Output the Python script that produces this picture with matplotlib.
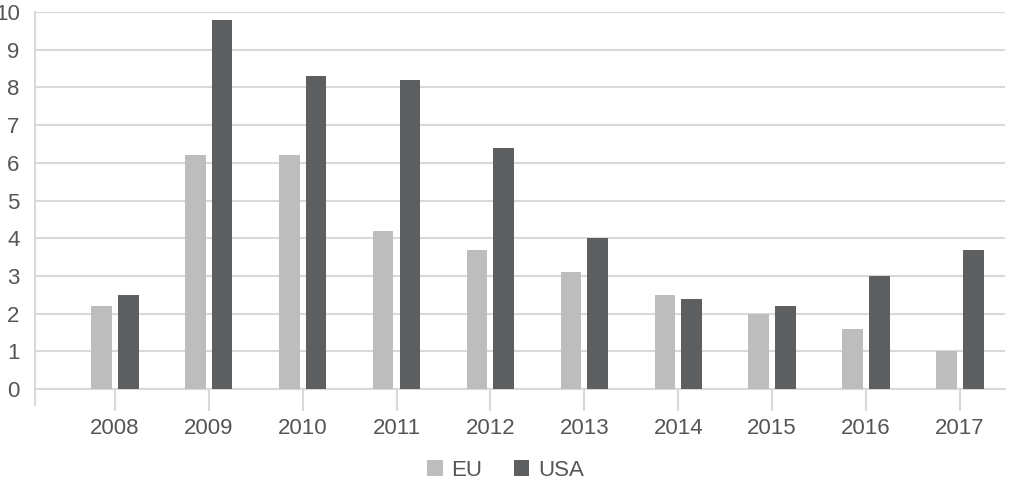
import numpy as np
import matplotlib.pyplot as plt

years = ['2008', '2009', '2010', '2011', '2012', '2013', '2014', '2015', '2016', '2017']
eu = [2.2, 6.2, 6.2, 4.2, 3.7, 3.1, 2.5, 2.0, 1.6, 1.0]
usa = [2.5, 9.8, 8.3, 8.2, 6.4, 4.0, 2.4, 2.2, 3.0, 3.7]

plt.rcParams['font.family'] = ['Liberation Sans', 'DejaVu Sans']

fig = plt.figure(figsize=(10.11, 4.86), dpi=100)
ax = fig.add_axes([35 / 1011, 1 - 389 / 486, 970 / 1011, 377 / 486])

x = np.arange(len(years))
w = 0.22
gap = 0.065
ax.bar(x - (w + gap) / 2, eu, w, color='#bdbdbd', label='EU', zorder=3)
ax.bar(x + (w + gap) / 2, usa, w, color='#5e5f61', label='USA', zorder=3)

ax.set_xlim(-0.85, 9.48)
ax.set_ylim(0, 10)
ax.set_yticks(range(0, 11))
ax.set_xticks(x)
ax.set_xticklabels(years)

grid_c = '#d9d9d9'
ax.grid(axis='y', color=grid_c, linewidth=1.5, zorder=0)
for s in ['top', 'right', 'left']:
    ax.spines[s].set_visible(False)
ax.spines['bottom'].set_color(grid_c)
ax.spines['bottom'].set_linewidth(1.5)
# left axis line runs a little below zero, like the tick marks
ax.plot([-0.85, -0.85], [-0.42, 10], color=grid_c, lw=1.5, clip_on=False, zorder=1)

ax.tick_params(axis='x', length=16, width=1.5, color=grid_c, labelsize=16,
               labelcolor='#555555', pad=5)
ax.tick_params(axis='y', length=0, labelsize=16, labelcolor='#555555', pad=11)

ax.legend(loc='upper center', bbox_to_anchor=(0.485, -0.135), ncol=2, frameon=False,
          fontsize=16, labelcolor='#555555', handlelength=0.7, handleheight=0.7,
          handletextpad=0.4, columnspacing=1.4)

fig.savefig('out.png', dpi=100)
